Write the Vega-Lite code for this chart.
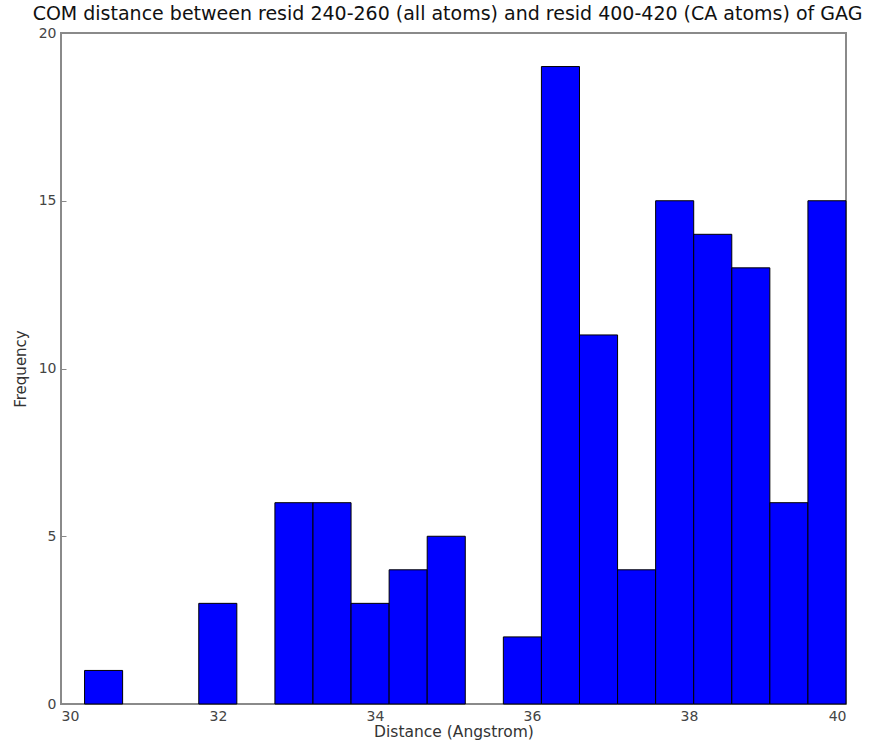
{
  "$schema": "https://vega.github.io/schema/vega-lite/v6.json",
  "autosize": "none",
  "padding": {"left": 61, "top": 33, "right": 49, "bottom": 38},
  "width": 785,
  "height": 671,
  "background": "white",
  "title": {"text": "COM distance between resid 240-260 (all atoms) and resid 400-420 (CA atoms) of GAG", "font": "DejaVu Sans", "fontSize": 19, "fontWeight": "normal", "color": "#111", "anchor": "middle", "offset": 2, "dx": -6},
  "config": {"view": {"stroke": "#8a8a8a", "strokeWidth": 2}},
  "data": {"values": [
    {"start": 30.30, "end": 30.785, "count": 1},
    {"start": 30.785, "end": 31.27, "count": 0},
    {"start": 31.27, "end": 31.755, "count": 0},
    {"start": 31.755, "end": 32.24, "count": 3},
    {"start": 32.24, "end": 32.725, "count": 0},
    {"start": 32.725, "end": 33.21, "count": 6},
    {"start": 33.21, "end": 33.695, "count": 6},
    {"start": 33.695, "end": 34.18, "count": 3},
    {"start": 34.18, "end": 34.665, "count": 4},
    {"start": 34.665, "end": 35.15, "count": 5},
    {"start": 35.15, "end": 35.635, "count": 0},
    {"start": 35.635, "end": 36.12, "count": 2},
    {"start": 36.12, "end": 36.605, "count": 19},
    {"start": 36.605, "end": 37.09, "count": 11},
    {"start": 37.09, "end": 37.575, "count": 4},
    {"start": 37.575, "end": 38.06, "count": 15},
    {"start": 38.06, "end": 38.545, "count": 14},
    {"start": 38.545, "end": 39.03, "count": 13},
    {"start": 39.03, "end": 39.515, "count": 6},
    {"start": 39.515, "end": 40.0, "count": 15}
  ]},
  "transform": [{"filter": "datum.count > 0"}],
  "mark": {"type": "rect", "color": "#0000ff", "stroke": "#000000", "strokeWidth": 1},
  "encoding": {
    "x": {"field": "start", "type": "quantitative", "scale": {"domain": [30, 40], "nice": false, "zero": false},
      "axis": {"title": "Distance (Angstrom)", "values": [30, 32, 34, 36, 38, 40], "grid": false, "domain": false, "tickSize": -5, "tickColor": "#888", "labelPadding": 10, "labelFont": "DejaVu Sans", "labelFontSize": 14, "labelColor": "#444", "titleFont": "DejaVu Sans", "titleFontSize": 15.5, "titleFontWeight": "normal", "titleColor": "#333", "titlePadding": 1}},
    "x2": {"field": "end"},
    "y": {"field": "count", "type": "quantitative", "scale": {"domain": [0, 20], "nice": false},
      "axis": {"title": "Frequency", "values": [0, 5, 10, 15, 20], "grid": false, "domain": false, "tickSize": -5, "tickColor": "#888", "labelPadding": 10, "labelFont": "DejaVu Sans", "labelFontSize": 14, "labelColor": "#444", "titleFont": "DejaVu Sans", "titleFontSize": 15, "titleFontWeight": "normal", "titleColor": "#333", "titlePadding": 10}},
    "y2": {"datum": 0}
  }
}
